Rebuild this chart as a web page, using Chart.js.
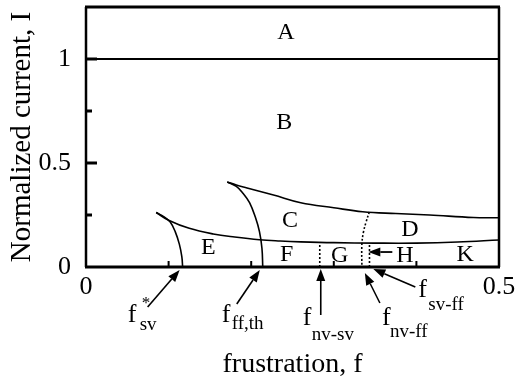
<!DOCTYPE html>
<html>
<head>
<meta charset="utf-8">
<script src="https://cdn.jsdelivr.net/npm/chart.js@4.4.1/dist/chart.umd.min.js"></script>
<style>
  html, body { margin: 0; padding: 0; background: #fff; }
  #wrap { width: 518px; height: 381px; }
</style>
</head>
<body>
<div id="wrap"><canvas id="phaseChart"></canvas></div>
<script>
// Phase boundaries (x = frustration f, y = normalized current I)
const topLineX = [0, 0.5];
const topLineY = [1, 1];

const upperX = [0.171, 0.182, 0.195, 0.227, 0.26, 0.30, 0.335, 0.375, 0.416, 0.469, 0.5];
const upperY = [0.409, 0.394, 0.380, 0.346, 0.309, 0.285, 0.266, 0.257, 0.250, 0.238, 0.237];

const lowerX = [0.085, 0.10, 0.125, 0.154, 0.18, 0.21, 0.235, 0.26, 0.30, 0.35, 0.40, 0.45, 0.5];
const lowerY = [0.262, 0.225, 0.186, 0.159, 0.144, 0.131, 0.125, 0.121, 0.117, 0.115, 0.115, 0.120, 0.130];

const svStarX = [0.085, 0.095, 0.102, 0.108, 0.113, 0.116, 0.117];
const svStarY = [0.262, 0.240, 0.216, 0.170, 0.110, 0.050, 0];

const ffThX = [0.171, 0.182, 0.190, 0.198, 0.205, 0.210, 0.213, 0.214];
const ffThY = [0.409, 0.388, 0.355, 0.310, 0.240, 0.170, 0.090, 0];

// dotted boundaries
const nvFfX = [0.343, 0.339, 0.336, 0.334, 0.334];
const nvFfY = [0.265, 0.215, 0.170, 0.110, 0];
const nvSvX = [0.283, 0.283];
const nvSvY = [0, 0.119];
const svFfX = [0.3432, 0.3432];
const svFfY = [0, 0.115];

// critical frustrations marked under the axis
const critF = [0.117, 0.214, 0.283, 0.334, 0.343];
const critSub = ['sv', 'ff,th', 'nv-sv', 'nv-ff', 'sv-ff'];

// region letters
const regionNames = ['A', 'B', 'C', 'D', 'E', 'F', 'G', 'H', 'K'];
const regionF = [0.242, 0.240, 0.247, 0.392, 0.148, 0.243, 0.307, 0.386, 0.459];
const regionI = [1.125, 0.692, 0.221, 0.180, 0.091, 0.058, 0.053, 0.053, 0.058];

const xTicks = [0, 0.5];
const yTicks = [0, 0.5, 1];

const SERIF = "'Liberation Serif', 'Times New Roman', serif";

function pts(xs, ys) {
    return xs.map((v, i) => ({ x: v, y: ys[i] }));
}

function curve(xs, ys, extra) {
    return Object.assign({
        data: pts(xs, ys),
        showLine: true,
        borderColor: '#000',
        borderWidth: 1.6,
        pointRadius: 0,
        tension: 0.4,
        fill: false
    }, extra || {});
}

function arrow(ctx, x1, y1, x2, y2) {
    const ang = Math.atan2(y2 - y1, x2 - x1);
    const len = 12, half = 4.5;
    const bx = x2 - len * Math.cos(ang), by = y2 - len * Math.sin(ang);
    ctx.beginPath();
    ctx.moveTo(x1, y1);
    ctx.lineTo(bx, by);
    ctx.stroke();
    ctx.beginPath();
    ctx.moveTo(x2, y2);
    ctx.lineTo(bx + half * Math.sin(ang), by - half * Math.cos(ang));
    ctx.lineTo(bx - half * Math.sin(ang), by + half * Math.cos(ang));
    ctx.closePath();
    ctx.fill();
}

// pixel offsets of each note relative to (f, axis): tip, tail, "f", subscript
const noteLayout = [
    { tip: [-3, 3], tail: [-35, 40], f: [-55, 55], sub: [-43, 63], star: [-41, 41] },
    { tip: [-3, 3], tail: [-26, 37], f: [-41, 55], sub: [-31, 62] },
    { tip: [1, 2], tail: [1, 48], f: [-17, 58], sub: [-8, 73] },
    { tip: [3, 6], tail: [18, 36], f: [20, 58], sub: [28, 70] },
    { tip: [4, 2], tail: [46, 20], f: [49, 30], sub: [59, 43] }
];

// drop the automatic label padding so the plot box sits where the figure has it
function noPad(s) {
    s.paddingTop = 0; s.paddingBottom = 0;
    s.paddingLeft = 0; s.paddingRight = 0;
}

const decorations = {
    id: 'decorations',
    afterDatasetsDraw(chart) {
        const { ctx, chartArea: a, scales: { x, y } } = chart;
        ctx.save();
        ctx.strokeStyle = '#000';
        ctx.fillStyle = '#000';
        ctx.lineCap = 'butt';

        // frame
        ctx.lineWidth = 3;
        ctx.beginPath();
        ctx.moveTo(a.left - 1, a.top); ctx.lineTo(a.right + 1, a.top);
        ctx.moveTo(a.left - 1, a.bottom); ctx.lineTo(a.right + 1, a.bottom);
        ctx.stroke();
        ctx.lineWidth = 2.5;
        ctx.beginPath();
        ctx.moveTo(a.left, a.top); ctx.lineTo(a.left, a.bottom);
        ctx.moveTo(a.right, a.top); ctx.lineTo(a.right, a.bottom);
        ctx.stroke();

        // inner ticks
        ctx.lineWidth = 3;
        [0.25, 0.5, 0.75, 1].forEach(v => {
            const len = (v === 0.5 || v === 1) ? 11 : 6;
            const py = y.getPixelForValue(v);
            ctx.beginPath(); ctx.moveTo(a.left, py); ctx.lineTo(a.left + len, py); ctx.stroke();
        });
        ctx.lineWidth = 2;
        [0.1, 0.2, 0.3, 0.4].forEach(v => {
            const px = x.getPixelForValue(v);
            ctx.beginPath(); ctx.moveTo(px, a.bottom); ctx.lineTo(px, a.bottom - 6); ctx.stroke();
        });

        // region letters
        ctx.font = '24px ' + SERIF;
        ctx.textAlign = 'center';
        ctx.textBaseline = 'middle';
        regionNames.forEach((n, i) => {
            ctx.fillText(n, x.getPixelForValue(regionF[i]), y.getPixelForValue(regionI[i]));
        });

        // H arrow pointing at the sv-ff line
        ctx.lineWidth = 1.8;
        const hx = x.getPixelForValue(critF[4]);
        const hy = y.getPixelForValue(0.072);
        arrow(ctx, hx + 23, hy, hx - 1, hy);

        // critical points under the axis
        ctx.textAlign = 'left';
        ctx.textBaseline = 'alphabetic';
        critF.forEach((f, i) => {
            const L = noteLayout[i];
            const bx = x.getPixelForValue(f), by = a.bottom;
            ctx.lineWidth = 1.6;
            arrow(ctx, bx + L.tail[0], by + L.tail[1], bx + L.tip[0], by + L.tip[1]);
            ctx.font = '26px ' + SERIF;
            ctx.fillText('f', bx + L.f[0], by + L.f[1]);
            ctx.font = '19px ' + SERIF;
            ctx.fillText(critSub[i], bx + L.sub[0], by + L.sub[1]);
            if (L.star) {
                ctx.font = '17px ' + SERIF;
                ctx.fillText('*', bx + L.star[0], by + L.star[1]);
            }
        });
        ctx.restore();
    }
};

const ctx = document.getElementById('phaseChart').getContext('2d');
new Chart(ctx, {
    type: 'scatter',
    data: {
        datasets: [
            curve(topLineX, topLineY, { borderWidth: 2, tension: 0 }),
            curve(upperX, upperY),
            curve(lowerX, lowerY),
            curve(svStarX, svStarY),
            curve(ffThX, ffThY),
            curve(nvFfX, nvFfY, { borderDash: [2, 2], borderWidth: 1.6 }),
            curve(nvSvX, nvSvY, { borderDash: [2, 2], borderWidth: 1.6, tension: 0 }),
            curve(svFfX, svFfY, { borderDash: [2, 2], borderWidth: 1.6, tension: 0 })
        ]
    },
    options: {
        responsive: true,
        maintainAspectRatio: false,
        animation: false,
        layout: { autoPadding: false, padding: { top: 7, right: 19, left: 0, bottom: 0 } },
        plugins: {
            legend: { display: false },
            tooltip: { enabled: false }
        },
        scales: {
            x: {
                type: 'linear',
                min: 0, max: 0.5,
                afterBuildTicks: s => { s.ticks = xTicks.map(v => ({ value: v })); },
                afterFit: s => { s.height = 114; noPad(s); },
                grid: { display: false, drawTicks: false },
                border: { display: false },
                ticks: {
                    padding: 5,
                    color: '#000',
                    font: { family: SERIF, size: 26 },
                    callback: v => String(v)
                },
                title: {
                    display: true,
                    text: 'frustration, f',
                    color: '#000',
                    font: { family: SERIF, size: 28 },
                    padding: { top: 0, bottom: 0 }
                }
            },
            y: {
                type: 'linear',
                min: 0, max: 1.25,
                afterBuildTicks: s => { s.ticks = yTicks.map(v => ({ value: v })); },
                afterFit: s => { s.width = 86; noPad(s); },
                grid: { display: false, drawTicks: false },
                border: { display: false },
                ticks: {
                    padding: 15,
                    color: '#000',
                    font: { family: SERIF, size: 26 },
                    callback: v => String(v)
                },
                title: {
                    display: true,
                    text: 'Normalized current, I',
                    color: '#000',
                    font: { family: SERIF, size: 29 },
                    padding: { top: 5, bottom: 0 }
                }
            }
        }
    },
    plugins: [decorations]
});
</script>
</body>
</html>
